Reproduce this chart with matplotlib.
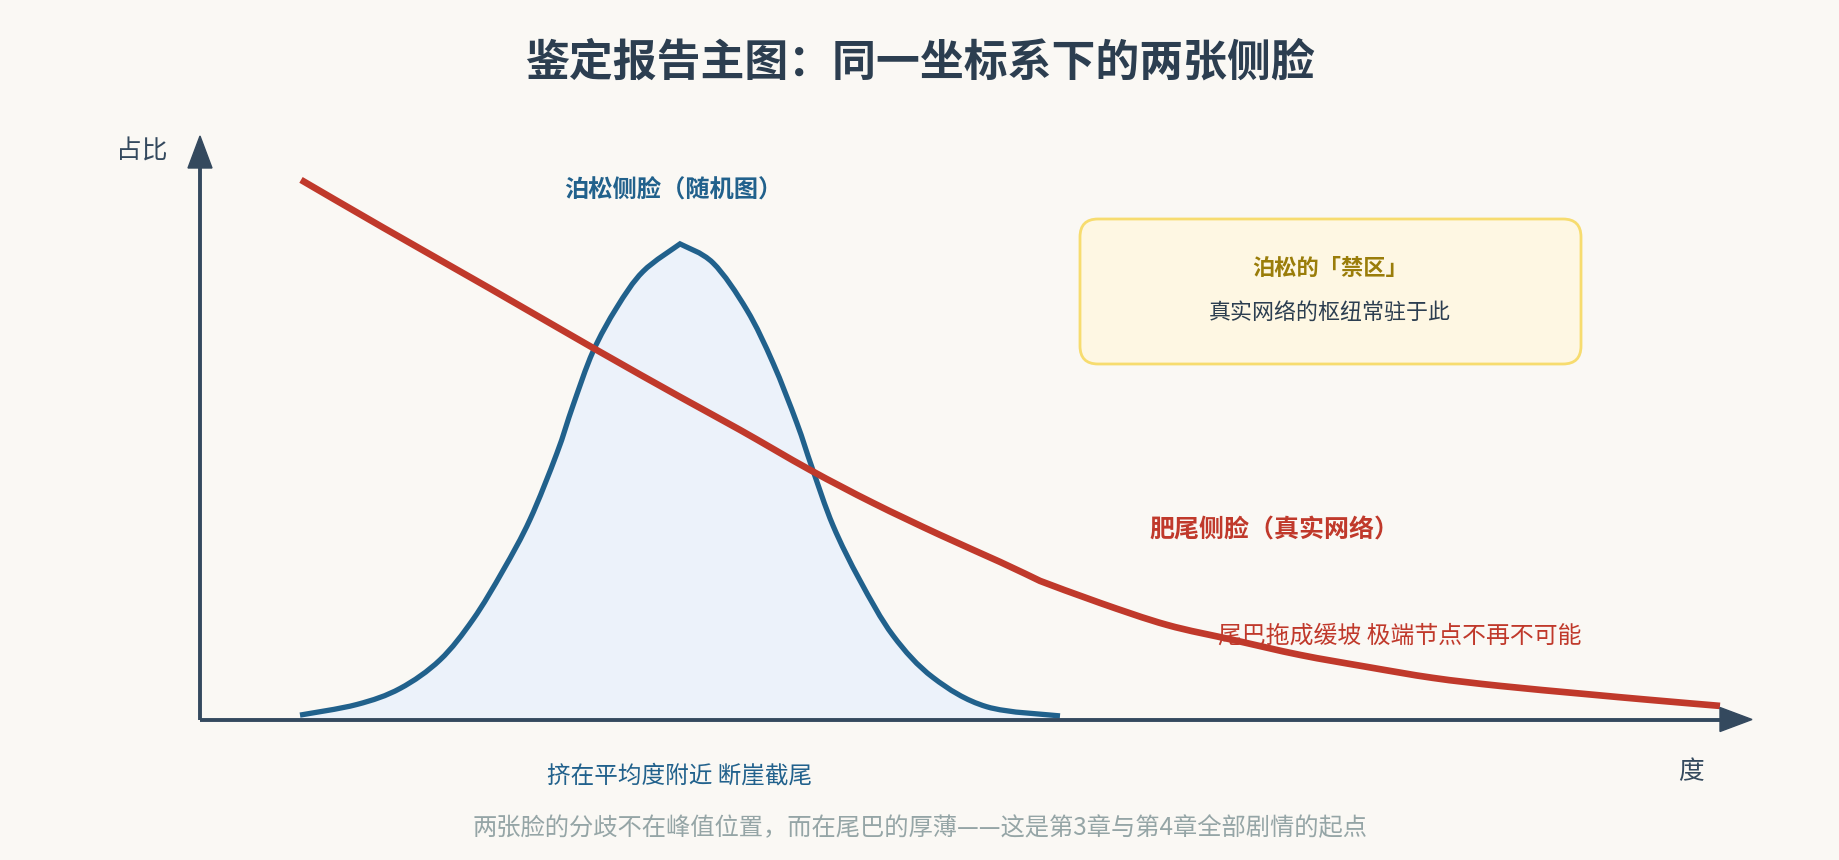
import matplotlib
matplotlib.use("Agg")
import matplotlib.pyplot as plt
from matplotlib.patches import FancyBboxPatch, Polygon, PathPatch
from matplotlib.path import Path

plt.rcParams['font.family'] = ['Noto Sans CJK SC', 'DejaVu Sans']

# ---------------- data (degree k, share %) ----------------
poisson_k = [5, 7.84, 10, 12, 13.65, 15.15, 16.5, 17.84, 18.65, 19.65, 20.84, 22.15, 24,
             25.65, 27.34, 28.65, 29.84, 30.6, 31.65, 33, 34.65, 36.65, 39.33, 43]
poisson_p = [0.22, 0.75, 1.55, 2.98, 5.0, 7.45, 10.0, 13.3, 15.7, 18.4, 20.6, 22.4, 23.78,
             22.83, 20.48, 17.83, 14.83, 12.6, 9.7, 6.95, 4.2, 2.1, 0.64, 0.18]

fat_k = [5.05, 9.15, 14.5, 19.65, 24, 27, 30.5, 33.65, 37, 40, 42, 45, 48.35, 51.65, 55,
         58.35, 61.65, 65, 69.2, 72.5, 76]
fat_p = [26.98, 24.6, 21.55, 18.58, 16.13, 14.48, 12.48, 10.83, 9.23, 7.88, 6.93, 5.83, 4.73,
         3.98, 3.23, 2.63, 2.08, 1.68, 1.28, 0.98, 0.68]

title = "鉴定报告主图：同一坐标系下的两张侧脸"
y_label = "占比"
x_label = "度"
poisson_label = "泊松侧脸（随机图）"
poisson_note = "挤在平均度附近 断崖截尾"
fat_label = "肥尾侧脸（真实网络）"
fat_note = "尾巴拖成缓坡 极端节点不再不可能"
box_title = "泊松的「禁区」"
box_text = "真实网络的枢纽常驻于此"
footer = "两张脸的分歧不在峰值位置，而在尾巴的厚薄——这是第3章与第4章全部剧情的起点"

# ---------------- style ----------------
BG = "#faf8f4"
AXIS = "#34495e"
BLUE = "#21618c"
BLUE_FILL = "#ecf2fa"
RED = "#c0392b"
DARK = "#2c3e50"
GREY = "#95a5a6"
GOLD = "#9a7d0a"

W, H = 1840, 860
fig = plt.figure(figsize=(W / 100, H / 100), dpi=100, facecolor=BG)

x0, y0 = 200, 719.5          # axis origin in pixels (top-left origin)
xmax_px, ytop_px = 1760, 136
ax = fig.add_axes([x0 / W, (H - y0) / H, (xmax_px - x0) / W, (y0 - ytop_px) / H])
ax.set_facecolor("none")
xmax = (xmax_px - x0) / 20.0
ymax = (y0 - ytop_px) / 20.0
ax.set_xlim(0, xmax)
ax.set_ylim(0, ymax)
for s in ax.spines.values():
    s.set_visible(False)
ax.set_xticks([])
ax.set_yticks([])


def smooth_verts(xs, ys, breaks=()):
    """Bezier path through the given points (Catmull-Rom style), with corners at breaks."""
    pts = list(zip(xs, ys))
    n = len(pts)
    cuts = [0] + sorted(breaks) + [n - 1]
    verts = [pts[0]]
    codes = [Path.MOVETO]
    for a, b in zip(cuts[:-1], cuts[1:]):
        seg = pts[a:b + 1]
        m = len(seg)
        for i in range(m - 1):
            p0 = seg[i - 1] if i > 0 else seg[i]
            p1 = seg[i]
            p2 = seg[i + 1]
            p3 = seg[i + 2] if i + 2 < m else seg[i + 1]
            c1 = (p1[0] + (p2[0] - p0[0]) / 6, p1[1] + (p2[1] - p0[1]) / 6)
            c2 = (p2[0] - (p3[0] - p1[0]) / 6, p2[1] - (p3[1] - p1[1]) / 6)
            verts += [c1, c2, p2]
            codes += [Path.CURVE4] * 3
    return verts, codes


peak = poisson_p.index(max(poisson_p))
bv, bc = smooth_verts(poisson_k, poisson_p, breaks=[peak])
# fill under the Poisson curve
fv = bv + [(poisson_k[-1], 0), (poisson_k[0], 0), bv[0]]
fc = bc + [Path.LINETO, Path.LINETO, Path.CLOSEPOLY]
ax.add_patch(PathPatch(Path(fv, fc), facecolor=BLUE_FILL, edgecolor='none', zorder=1))
ax.add_patch(PathPatch(Path(bv, bc), facecolor='none', edgecolor=BLUE, lw=3.8,
                       capstyle='butt', joinstyle='miter', zorder=3))

kink = fat_k.index(42)
rv, rc = smooth_verts(fat_k, fat_p, breaks=[kink])
ax.add_patch(PathPatch(Path(rv, rc), facecolor='none', edgecolor=RED, lw=4.8,
                       capstyle='butt', joinstyle='round', zorder=4))

# axes with arrows (20 px per unit)
xa_end = fat_k[-1]
ax.plot([0, xa_end], [0, 0], color=AXIS, lw=2.8, solid_capstyle='butt', clip_on=False, zorder=5)
ax.add_patch(Polygon([[xa_end, -0.6], [xa_end, 0.6], [xa_end + 1.6, 0]], closed=True,
                     color=AXIS, clip_on=False, zorder=5))
ya_end = ymax - 1.6
ax.plot([0, 0], [0, ya_end], color=AXIS, lw=2.8, solid_capstyle='butt', clip_on=False, zorder=5)
ax.add_patch(Polygon([[-0.6, ya_end], [0.6, ya_end], [0, ymax]], closed=True,
                     color=AXIS, clip_on=False, zorder=5))


def ftext(px, py, s, **kw):
    fig.text(px / W, 1 - py / H, s, ha='center', va='center', **kw)


ftext(920, 63, title, fontsize=31.6, fontweight='heavy', color=DARK)
ftext(142, 152, y_label, fontsize=18.5, color=AXIS)
ftext(1691, 772, x_label, fontsize=18.5, color=AXIS)
ftext(673, 191, poisson_label, fontsize=17.5, fontweight='bold', color=BLUE)
ftext(680, 776, poisson_note, fontsize=17, color=BLUE)
ftext(1274, 530, fat_label, fontsize=18, fontweight='bold', color=RED)
ftext(1400, 636, fat_note, fontsize=17.2, color=RED)
ftext(920, 828, footer, fontsize=17.5, color=GREY)

# callout box
box = FancyBboxPatch((10.80, (H - 364) / 100), 5.01, 1.45,
                     boxstyle="round,pad=0,rounding_size=0.18",
                     transform=fig.dpi_scale_trans, facecolor="#fef7e3",
                     edgecolor="#f7dc6f", lw=2.0)
fig.add_artist(box)
ftext(1330, 268, box_title, fontsize=16, fontweight='bold', color=GOLD)
ftext(1330, 314, box_text, fontsize=15.8, color=DARK)

fig.savefig("out.png", dpi=100, facecolor=BG)
